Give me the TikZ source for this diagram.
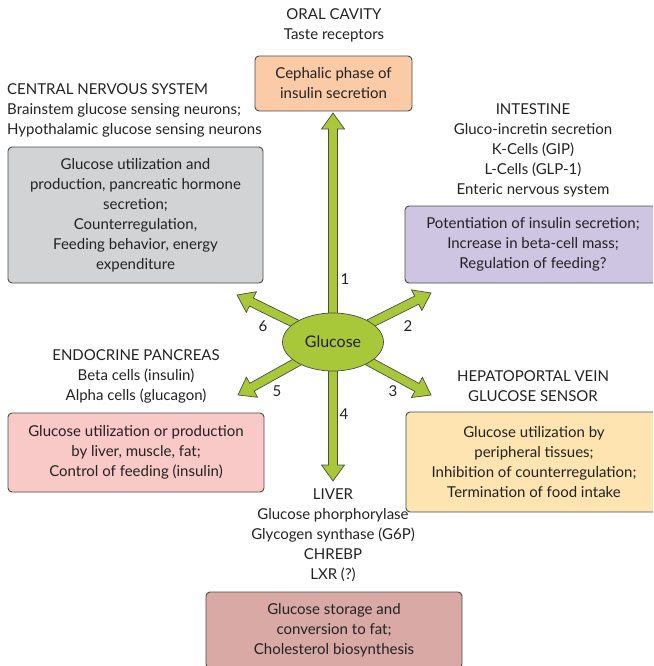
\documentclass[tikz,border=0pt]{standalone}
\usepackage{fontspec}
\setmainfont{Lato}
\usetikzlibrary{calc,shapes.geometric,backgrounds}
\definecolor{txt}{HTML}{222222}
\definecolor{edge}{HTML}{4A4A4A}
\definecolor{grn}{HTML}{A8C83A}
\definecolor{cpeach}{HTML}{FBCBA7}
\definecolor{cgrey}{HTML}{D1D3D4}
\definecolor{cpurple}{HTML}{CEC5E3}
\definecolor{cpink}{HTML}{F8C9C6}
\definecolor{cyellow}{HTML}{FDE4B1}
\definecolor{crose}{HTML}{D8A9A5}
\tikzset{
  tfont/.style={font=\fontsize{15}{20}\selectfont},
  box/.style={draw=edge, line width=0.9pt, rounded corners=4pt, align=center,
    text=txt, tfont, inner sep=0pt},
  lbl/.style={align=center, text=txt, tfont, inner sep=0pt},
  num/.style={text=txt, tfont, inner sep=0pt},
  fat/.style={draw=edge, fill=grn, line width=0.7pt, line join=miter},
}
% #1 start, #2 tip, #3 name of head base
\newcommand\fatarrow[3]{%
  \coordinate (#3) at ($(#2)!16pt!(#1)$);
  \path[fat] ($(#1)!4.5pt!90:(#2)$) -- ($(#3)!4.5pt!-90:(#1)$)
    -- ($(#3)!11.5pt!-90:(#1)$) -- (#2) -- ($(#3)!11.5pt!90:(#1)$)
    -- ($(#3)!4.5pt!90:(#1)$) -- ($(#1)!4.5pt!-90:(#2)$) -- cycle;}
\begin{document}
\begin{tikzpicture}[x=1pt,y=-1pt]
\useasboundingbox (0,0) rectangle (653,666);
\clip (0,0) rectangle (653,666);
% glucose
\node[ellipse, draw=edge, fill=grn, line width=0.7pt, minimum width=101pt,
  minimum height=58pt, inner sep=0pt, text=txt, font=\fontsize{16}{20}\selectfont] (g) at (333,342) {Glucose};
% headings
\node[lbl] (oral) at (334,25) {ORAL CAVITY\\Taste receptors};
\node[lbl, anchor=west, align=left] (cns) at (7,110) {CENTRAL NERVOUS SYSTEM\\Brainstem glucose sensing neurons;\\Hypothalamic glucose sensing neurons};
\node[lbl] (intest) at (533,150) {INTESTINE\\Gluco-incretin secretion\\K-Cells (GIP)\\L-Cells (GLP-1)\\Enteric nervous system};
\node[lbl] (endo) at (136,376) {ENDOCRINE PANCREAS\\Beta cells (insulin)\\Alpha cells (glucagon)};
\node[lbl] (hepa) at (533,386) {HEPATOPORTAL VEIN\\GLUCOSE SENSOR};
\node[lbl] (liver) at (333,535) {LIVER\\Glucose phorphorylase\\Glycogen synthase (G6P)\\CHREBP\\LXR (?)};
% boxes
\node[box, fill=cpeach, minimum width=157pt, minimum height=55pt] (ceph) at (333.5,83.5) {Cephalic phase of\\insulin secretion};
\node[box, fill=cgrey, minimum width=255pt, minimum height=136pt] (cnsbox) at (135.5,215) {Glucose utilization and\\production, pancreatic hormone\\secretion;\\Counterregulation,\\Feeding behavior, energy\\expenditure};
\node[box, fill=cpurple, minimum width=256pt, minimum height=77pt] (intbox) at (533,244.5) {Potentiation of insulin secretion;\\Increase in beta-cell mass;\\Regulation of feeding?};
\node[box, fill=cpink, minimum width=256pt, minimum height=79pt] (endobox) at (136,452.5) {Glucose utilization or production\\by liver, muscle, fat;\\Control of feeding (insulin)};
\node[box, fill=cyellow, minimum width=256pt, minimum height=100pt] (hepabox) at (534,462) {Glucose utilization by\\peripheral tissues;\\Inhibition of counterregulation;\\Termination of food intake};
\node[box, fill=crose, minimum width=256pt, minimum height=76pt] (liverbox) at (334,630) {Glucose storage and\\conversion to fat;\\Cholesterol biosynthesis};
% arrow tips
\coordinate (t1) at (333,113);
\coordinate (t2) at (431,293);
\coordinate (t3) at (431,395);
\coordinate (t4) at (333,481);
\coordinate (t5) at (238,395);
\coordinate (t6) at (237,295);
\begin{pgfonlayer}{background}
\fatarrow{g.center}{t1}{b1}
\fatarrow{g.center}{t2}{b2}
\fatarrow{g.center}{t3}{b3}
\fatarrow{g.center}{t4}{b4}
\fatarrow{g.center}{t5}{b5}
\fatarrow{g.center}{t6}{b6}
\end{pgfonlayer}
% numbers
\node[num] (n1) at (345,279) {1};
\node[num] (n2) at (408,326) {2};
\node[num] (n3) at (393,391) {3};
\node[num] (n4) at (344,414) {4};
\node[num] (n5) at (277,391) {5};
\node[num] (n6) at (263,326) {6};
\end{tikzpicture}
\end{document}
